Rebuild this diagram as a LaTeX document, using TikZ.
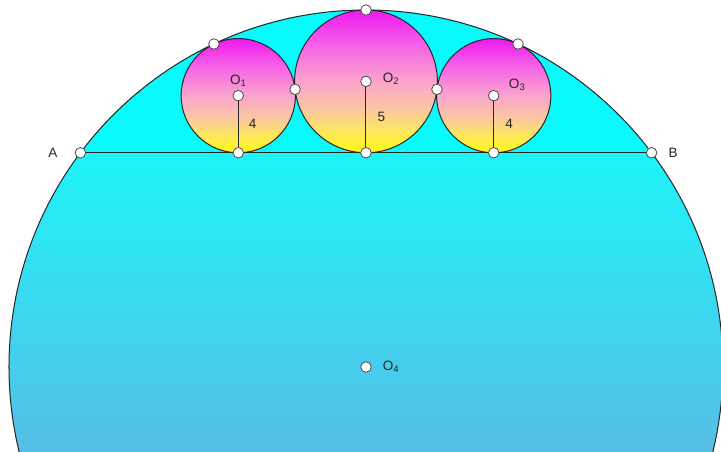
\documentclass[tikz,border=0pt]{standalone}
\usepackage{fontspec}
\setmainfont{Liberation Sans}
\usetikzlibrary{positioning}
\definecolor{aquatop}{RGB}{8,250,252}
\definecolor{aquamid}{RGB}{30,244,250}
\definecolor{aqualow}{RGB}{86,190,230}
\definecolor{ballpink}{RGB}{238,25,238}
\definecolor{ballrose}{RGB}{246,100,230}
\definecolor{ballmid}{RGB}{250,165,205}
\definecolor{ballpeach}{RGB}{250,200,160}
\definecolor{ballcream}{RGB}{252,232,90}
\definecolor{ballyel}{RGB}{255,248,20}
\pgfdeclareverticalshading{ballshade}{100bp}{color(0bp)=(ballyel); color(25bp)=(ballyel);
  color(32.5bp)=(ballcream); color(40bp)=(ballpeach); color(50bp)=(ballmid);
  color(62.5bp)=(ballrose); color(75bp)=(ballpink); color(100bp)=(ballpink)}

\begin{document}
\begin{tikzpicture}[
    x=0.5cm, y=0.5cm,
    pt/.style={circle, draw=black!70, fill=white, line width=0.8pt, inner sep=0pt, minimum size=10.5pt},
    lf/.style={font=\fontsize{13.5}{15}\selectfont, text=black!85, inner sep=1pt},
    ed/.style={-, line width=1pt, black!85},
    ball/.style={shading=ballshade, draw=black!85, line width=1pt}
  ]
    \useasboundingbox (-25.63,-5.95) rectangle (24.86,25.70);
    \clip (-25.63,-5.95) rectangle (24.86,25.70);
    % big circle
    \fill[aquatop] (0,0) circle (25);
    \begin{scope}
      \clip (0,0) circle (25);
      \shade[top color=aquamid, bottom color=aqualow] (-25,-5.95) rectangle (25,15);
    \end{scope}
    \draw[ed] (0,0) circle (25);
    % three small circles
    \shade[ball] (-8.944,19) circle (4);
    \shade[ball] (0,20) circle (5);
    \shade[ball] (8.944,19) circle (4);
    % points
    \node[pt] (A)  at (-20,15) {};
    \node[pt] (B)  at (20,15) {};
    \node[pt] (H1) at (-8.944,15) {};
    \node[pt] (H2) at (0,15) {};
    \node[pt] (H3) at (8.944,15) {};
    \node[pt] (O1) at (-8.944,19) {};
    \node[pt] (O2) at (0,20) {};
    \node[pt] (O3) at (8.944,19) {};
    \node[pt] (O4) at (0,0) {};
    \node[pt] (T1) at (-10.648,22.619) {};
    \node[pt] (T2) at (0,25) {};
    \node[pt] (T3) at (10.648,22.619) {};
    \node[pt] (K1) at (-4.969,19.444) {};
    \node[pt] (K2) at (4.969,19.444) {};
    \draw[ed] (A) -- (H1) -- (H2) -- (H3) -- (B);
    \draw[ed] (O1) -- (H1) node[lf, midway, right=9pt] (r1) {4};
    \draw[ed] (O2) -- (H2) node[lf, midway, right=10pt] (r2) {5};
    \draw[ed] (O3) -- (H3) node[lf, midway, right=10pt] (r3) {4};
    % labels
    \node[lf, left=16pt of A] (lA) {A};
    \node[lf, right=10pt of B] (lB) {B};
    \node[lf, above=2pt of O1] (lO1) {O\textsubscript{1}};
    \node[lf, right=10pt of O2, yshift=3pt] (lO2) {O\textsubscript{2}};
    \node[lf, above right=0pt and 10pt of O3] (lO3) {O\textsubscript{3}};
    \node[lf, right=10pt of O4] (lO4) {O\textsubscript{4}};
  \end{tikzpicture}
\end{document}
